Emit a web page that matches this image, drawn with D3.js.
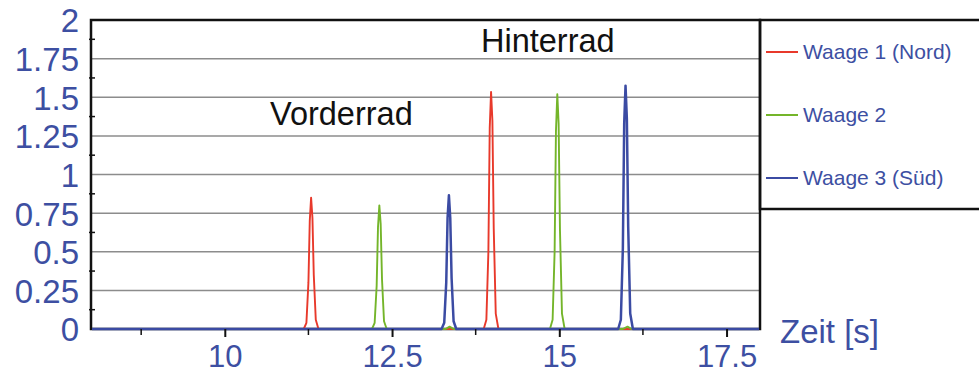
<!DOCTYPE html>
<html>
<head>
<meta charset="utf-8">
<script src="https://cdn.jsdelivr.net/npm/d3@7"></script>
<style>
  body { margin: 0; background: #fff; }
  svg { display: block; font-family: "Liberation Sans", Arial, sans-serif; }
</style>
</head>
<body>
<svg id="chart" width="979" height="374"></svg>
<script>
// Series data: [Zeit s, Kraft]
var seriesNames = ['Waage 1 (Nord)', 'Waage 2', 'Waage 3 (Süd)'];
var seriesColors = ['#e8392b', '#74b52a', '#3b4ba3'];

var waage1 = [
  [8, 0], [11.18, 0], [11.22, 0.04], [11.25, 0.3], [11.27, 0.7], [11.29, 0.85],
  [11.31, 0.72], [11.33, 0.35], [11.36, 0.06], [11.4, 0],
  [13.87, 0], [13.91, 0.06], [13.94, 0.5], [13.96, 1.3], [13.98, 1.535],
  [14.0, 1.35], [14.02, 0.65], [14.05, 0.1], [14.09, 0], [18, 0]
];
var waage2 = [
  [8, 0], [12.2, 0], [12.24, 0.04], [12.27, 0.28], [12.29, 0.66], [12.31, 0.8],
  [12.33, 0.68], [12.35, 0.32], [12.38, 0.05], [12.42, 0],
  [13.3, 0], [13.36, 0.015], [13.42, 0],
  [14.86, 0], [14.9, 0.06], [14.93, 0.5], [14.95, 1.28], [14.97, 1.52],
  [14.99, 1.33], [15.01, 0.64], [15.04, 0.1], [15.08, 0],
  [15.95, 0], [16.02, 0.015], [16.08, 0], [18, 0]
];
var waage3 = [
  [8, 0], [13.24, 0], [13.28, 0.04], [13.31, 0.3], [13.33, 0.72], [13.35, 0.865],
  [13.37, 0.72], [13.39, 0.33], [13.42, 0.05], [13.46, 0],
  [15.88, 0], [15.92, 0.06], [15.95, 0.52], [15.97, 1.33], [15.99, 1.575],
  [16.01, 1.36], [16.03, 0.66], [16.06, 0.1], [16.1, 0], [18, 0]
];

var xTicks = [10, 12.5, 15, 17.5];
var xMinorTicks = [8.75, 11.25, 13.75, 16.25];
var yTicks = [0, 0.25, 0.5, 0.75, 1, 1.25, 1.5, 1.75, 2];
var yMinorTicks = [0.125, 0.375, 0.625, 0.875, 1.125, 1.375, 1.625, 1.875];

var svg = d3.select('#chart');
var labelColor = '#3d4fa2';

// Scales
var x = d3.scaleLinear().domain([8, 18]).range([91, 760]);
var y = d3.scaleLinear().domain([0, 2]).range([329, 20]);

// Grid lines
svg.append('g')
  .selectAll('line')
  .data(yTicks.slice(1, -1))
  .enter().append('line')
  .attr('x1', x(8)).attr('x2', x(18))
  .attr('y1', function(d) { return y(d); })
  .attr('y2', function(d) { return y(d); })
  .attr('stroke', '#8c8c8c')
  .attr('stroke-width', 1.5);

// Plot frame
svg.append('rect')
  .attr('x', x(8)).attr('y', y(2))
  .attr('width', x(18) - x(8)).attr('height', y(0) - y(2))
  .attr('fill', 'none')
  .attr('stroke', '#111')
  .attr('stroke-width', 2.5);

// Clip for the lines (a little room below so the baseline shows on the axis)
svg.append('clipPath').attr('id', 'plot-clip')
  .append('rect')
  .attr('x', x(8) + 1).attr('y', y(2))
  .attr('width', x(18) - x(8) - 2).attr('height', y(0) - y(2) + 2);

var line = d3.line()
  .x(function(d) { return x(d[0]); })
  .y(function(d) { return y(d[1]); });

svg.append('g')
  .attr('clip-path', 'url(#plot-clip)')
  .selectAll('path')
  .data([waage1, waage2, waage3])
  .enter().append('path')
  .attr('d', line)
  .attr('fill', 'none')
  .attr('stroke', function(d, i) { return seriesColors[i]; })
  .attr('stroke-width', function(d, i) { return i === 2 ? 2.5 : 1.9; })
  .attr('stroke-linejoin', 'round');

// Y axis
var yAxis = svg.append('g')
  .attr('transform', 'translate(' + x(8) + ',0)')
  .call(d3.axisLeft(y).tickValues(yTicks).tickSize(0).tickPadding(12)
    .tickFormat(function(d) { return String(d); }));
yAxis.select('.domain').remove();
yAxis.selectAll('text')
  .attr('fill', labelColor)
  .style('font-size', '33px')
  .attr('dy', '0.36em');

// Y minor ticks
svg.append('g')
  .selectAll('line')
  .data(yMinorTicks)
  .enter().append('line')
  .attr('x1', x(8) - 2).attr('x2', x(8) + 4)
  .attr('y1', function(d) { return y(d); })
  .attr('y2', function(d) { return y(d); })
  .attr('stroke', '#111')
  .attr('stroke-width', 1.5);

// X axis
var xAxis = svg.append('g')
  .attr('transform', 'translate(0,' + y(0) + ')')
  .call(d3.axisBottom(x).tickValues(xTicks).tickSize(8).tickPadding(8)
    .tickFormat(function(d) { return String(d); }));
xAxis.select('.domain').remove();
xAxis.selectAll('.tick line').attr('stroke', '#111').attr('stroke-width', 2);
xAxis.selectAll('text')
  .attr('fill', labelColor)
  .style('font-size', '31px');

svg.append('g')
  .selectAll('line')
  .data(xMinorTicks)
  .enter().append('line')
  .attr('x1', function(d) { return x(d); })
  .attr('x2', function(d) { return x(d); })
  .attr('y1', y(0)).attr('y2', y(0) + 6)
  .attr('stroke', '#111')
  .attr('stroke-width', 1.5);

// Axis title
svg.append('text')
  .attr('x', 780).attr('y', 343)
  .attr('fill', labelColor)
  .style('font-size', '33px')
  .text('Zeit [s]');

// Annotations
svg.append('text')
  .attr('x', 481).attr('y', 52)
  .attr('fill', '#111')
  .style('font-size', '32.5px')
  .text('Hinterrad');
svg.append('text')
  .attr('x', 270).attr('y', 125)
  .attr('fill', '#111')
  .style('font-size', '32.5px')
  .text('Vorderrad');

// Legend
var legend = svg.append('g');
legend.append('rect')
  .attr('x', 760).attr('y', 20)
  .attr('width', 240).attr('height', 189)
  .attr('fill', 'none')
  .attr('stroke', '#111')
  .attr('stroke-width', 2.5);

var legendRows = [52, 115, 178];
var items = legend.selectAll('g.item')
  .data(seriesNames)
  .enter().append('g')
  .attr('class', 'item')
  .attr('transform', function(d, i) { return 'translate(0,' + legendRows[i] + ')'; });

items.append('line')
  .attr('x1', 766).attr('x2', 798)
  .attr('stroke', function(d, i) { return seriesColors[i]; })
  .attr('stroke-width', 2);

items.append('text')
  .attr('x', 803).attr('dy', '0.35em')
  .attr('fill', labelColor)
  .style('font-size', '21px')
  .text(function(d) { return d; });
</script>
</body>
</html>
